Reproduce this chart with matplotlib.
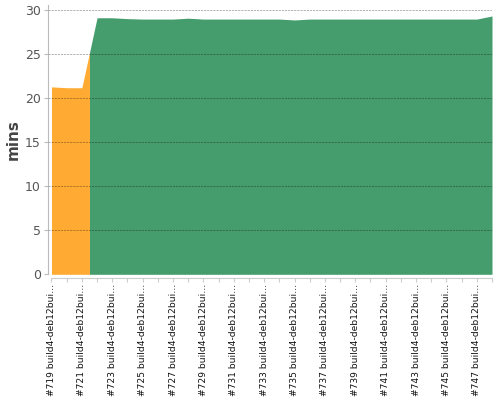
import numpy as np
import matplotlib.pyplot as plt

builds = list(range(719, 749))
durations = [21.3, 21.2, 21.2, 29.15, 29.15, 29.05, 29.0, 29.0, 29.0, 29.1,
             29.0, 29.0, 29.0, 29.0, 29.0, 29.0, 28.9, 29.0, 29.0, 29.0,
             29.0, 29.0, 29.0, 29.0, 29.0, 29.0, 29.0, 29.0, 29.0, 29.35]
status = ['unstable'] * 3 + ['success'] * 27
tick_labels = [f"#{b} build4-deb12bui\u2026" for b in builds]
y_ticks = [0, 5, 10, 15, 20, 25, 30]
colors = {'unstable': '#ffab33', 'success': '#459c6c'}

fig = plt.figure(figsize=(5, 4), dpi=100)
ax = fig.add_axes([47.7 / 500, 1 - 274.3 / 400, (492 - 47.7) / 500, (274.3 - 5) / 400])

x = np.array(builds, dtype=float)
y = np.array(durations, dtype=float)
n = len(x)

runs = []
start = 0
for i in range(1, n + 1):
    if i == n or status[i] != status[start]:
        runs.append((start, i - 1))
        start = i

for s, e in runs:
    xs, ys = [], []
    if s > 0:
        xs.append((x[s - 1] + x[s]) / 2)
        ys.append((y[s - 1] + y[s]) / 2)
    xs += list(x[s:e + 1])
    ys += list(y[s:e + 1])
    if e < n - 1:
        xs.append((x[e] + x[e + 1]) / 2)
        ys.append((y[e] + y[e + 1]) / 2)
    ax.fill_between(xs, 0, ys, color=colors[status[s]], linewidth=0, zorder=1)

ax.set_xlim(718.75, 748)
ax.set_ylim(0, 30.6)
ax.set_yticks(y_ticks)
ax.set_xticks(builds)
ax.set_xticklabels([lab if i % 2 == 0 else '' for i, lab in enumerate(tick_labels)])

ax.yaxis.grid(True, color='black', alpha=0.3, linestyle=(0, (2.2, 1.0)), linewidth=0.7)
ax.set_axisbelow(False)

for sp in ['top', 'right']:
    ax.spines[sp].set_visible(False)
ax.spines['left'].set_color('#bbbbbb')
ax.spines['bottom'].set_color('#cccccc')
ax.spines['bottom'].set_position(('outward', 3))
ax.spines['bottom'].set_bounds(719, 748)

ax.tick_params(axis='y', colors='#bbbbbb', labelcolor='#555555', labelsize=9, length=3, pad=2)
ax.tick_params(axis='x', colors='#cccccc', labelcolor='#111111', length=3, pad=1,
               labelrotation=90, labelsize=6.6)
for lab in ax.get_xticklabels():
    lab.set_horizontalalignment('center')
    lab.set_verticalalignment('top')

ax.set_ylabel('mins', fontsize=11, color='#444444', fontweight='bold', labelpad=3)

fig.savefig('out.png', dpi=100)
